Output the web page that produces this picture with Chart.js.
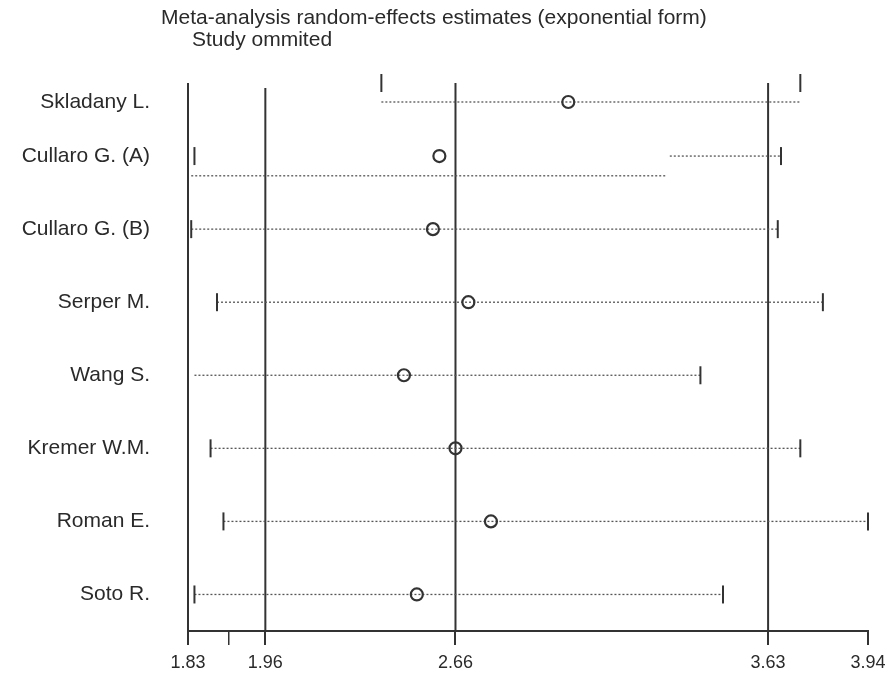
<!DOCTYPE html>
<html><head><meta charset="utf-8">
<script src="https://cdn.jsdelivr.net/npm/chart.js@4.4.1/dist/chart.umd.min.js"></script>
<style>html,body{margin:0;padding:0;background:#fff;}</style>
</head><body>
<canvas id="c" width="888" height="677"></canvas>
<script>
const titleLines = ['Meta-analysis random-effects estimates (exponential form)', 'Study ommited'];
const studies = ['Skladany L.', 'Cullaro G. (A)', 'Cullaro G. (B)', 'Serper M.', 'Wang S.', 'Kremer W.M.', 'Roman E.', 'Soto R.'];
const estimates = [3.01, 2.61, 2.59, 2.70, 2.50, 2.66, 2.77, 2.54];
const lower = [2.43, 1.85, 1.84, 1.92, 1.85, 1.90, 1.94, 1.85];
const upper = [3.73, 3.67, 3.66, 3.80, 3.42, 3.73, 3.94, 3.49];
const rowPos = [0.26, 1, 2, 3, 4, 5, 6, 7];
// artefacts of the source picture
const capShift = [-0.26, 0, 0, 0, 0, 0, 0, 0];
const lineShift = [0, 0.27, 0, 0, 0, 0, 0, 0];
const lineStart = [2.43, 1.84, 1.84, 1.92, 1.85, 1.90, 1.94, 1.85];
const lineBreak = [null, 3.315, null, null, null, null, null, null];
const hasLowerCap = [true, true, true, true, false, true, true, true];
const refLines = [1.83, 2.07, 2.66, 3.63];
const refTop = [0, 0.07, 0, 0];
const xTickValues = [1.83, 1.955, 2.07, 2.66, 3.63, 3.94];
const xTickLabels = ['1.83', '', '1.96', '2.66', '3.63', '3.94'];
const Y_MAX = 7.5;

const FONT = 'Liberation Sans';
const ink = '#2a2a2a';

function ciLine(pts) {
  return {data: pts, showLine: true, borderColor: '#555', borderWidth: 1.3, borderDash: [2, 2],
    pointRadius: 0, clip: false};
}

const datasets = [];
datasets.push({data: estimates.map((v, i) => ({x: v, y: rowPos[i]})), showLine: false,
  pointStyle: 'circle', pointRadius: 6, pointBorderWidth: 2.2, pointBorderColor: '#333',
  pointBackgroundColor: 'rgba(0,0,0,0)', clip: false});
const caps = [];
studies.forEach((s, i) => {
  if (hasLowerCap[i]) caps.push({x: lower[i], y: rowPos[i] + capShift[i]});
  caps.push({x: upper[i], y: rowPos[i] + capShift[i]});
});
datasets.push({data: caps, showLine: false, pointStyle: 'line', pointRotation: 90, pointRadius: 9,
  pointBorderWidth: 2, pointBorderColor: '#333', clip: false});
studies.forEach((s, i) => {
  const y = rowPos[i] + lineShift[i];
  if (lineBreak[i] == null) {
    datasets.push(ciLine([{x: lineStart[i], y}, {x: upper[i], y}]));
  } else {
    datasets.push(ciLine([{x: lineStart[i], y}, {x: lineBreak[i], y}]));
    datasets.push(ciLine([{x: lineBreak[i] + 0.01, y: rowPos[i]}, {x: upper[i], y: rowPos[i]}]));
  }
});
refLines.forEach((v, i) => {
  datasets.push({data: [{x: v, y: refTop[i]}, {x: v, y: Y_MAX}], showLine: true, borderColor: '#333',
    borderWidth: 2, pointRadius: 0, clip: false});
});

const titlePlugin = {
  id: 'titleText',
  afterDraw(chart) {
    const ctx = chart.ctx;
    ctx.save();
    ctx.fillStyle = ink;
    ctx.font = '21px "' + FONT + '"';
    ctx.textBaseline = 'middle';
    ctx.textAlign = 'left';
    ctx.fillText(titleLines[0], 161, 18);
    ctx.fillText(titleLines[1], 192, 40);
    ctx.restore();
  }
};

new Chart(document.getElementById('c'), {
  type: 'scatter',
  data: {datasets},
  plugins: [titlePlugin],
  options: {
    responsive: false, devicePixelRatio: 1, animation: false, events: [],
    layout: {padding: {top: 83, right: 20, bottom: 0, left: 0}},
    plugins: {legend: {display: false}, tooltip: {enabled: false}, title: {display: false}},
    scales: {
      x: {
        type: 'linear', min: 1.83, max: 3.94,
        afterBuildTicks: s => { s.ticks = xTickValues.map(v => ({value: v})); },
        afterFit: s => { s.height = 46; s.paddingLeft = 0; s.paddingRight = 0; },
        ticks: {callback: (v, i) => xTickLabels[i], autoSkip: false, maxRotation: 0, padding: 7,
          color: ink, font: {family: FONT, size: 18}},
        grid: {drawOnChartArea: false, drawTicks: true, tickLength: 14, color: '#333',
          lineWidth: c => (c.index === 1 ? 1.5 : 2)},
        border: {display: true, color: '#333', width: 2}
      },
      y: {
        type: 'linear', reverse: true, min: 0, max: Y_MAX,
        afterBuildTicks: s => { s.ticks = rowPos.map(v => ({value: v})); },
        afterFit: s => { s.width = 188; s.paddingTop = 0; s.paddingBottom = 0; },
        ticks: {callback: (v, i) => studies[i], autoSkip: false, padding: 38, color: ink,
          font: {family: FONT, size: 21}},
        grid: {display: false, drawTicks: false},
        border: {display: false}
      }
    }
  }
});
</script>
</body></html>
